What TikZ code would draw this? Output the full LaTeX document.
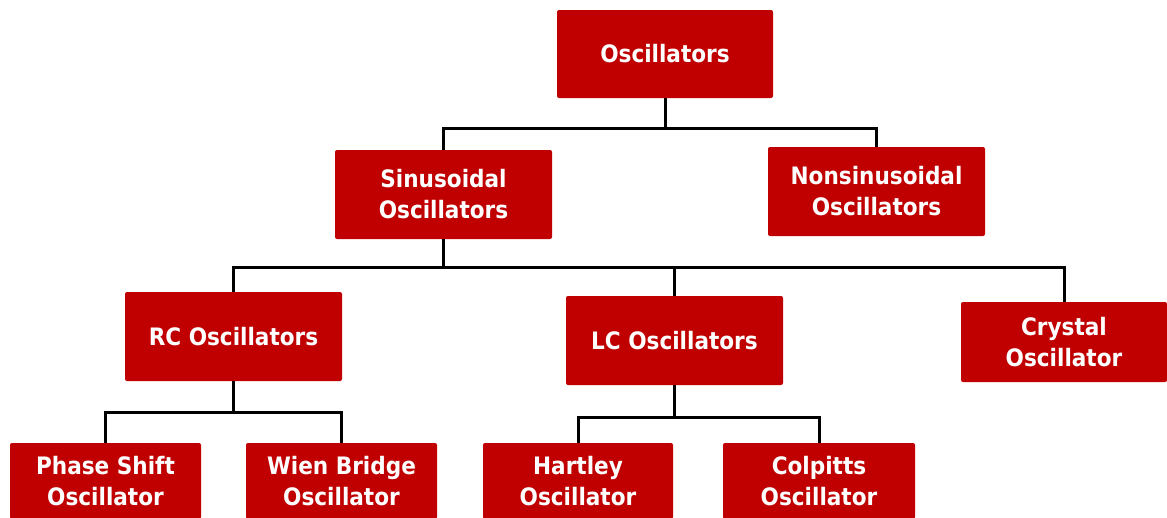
\documentclass[tikz,border=0pt]{standalone}
\usepackage{fontspec}
\newfontfamily\boxfont{DejaVu Sans Condensed}
\definecolor{boxred}{HTML}{C00000}

\begin{document}
\begin{tikzpicture}[x=1pt,y=-1pt,
  box/.style={fill=boxred,text=white,rounded corners=2pt,inner sep=0pt,
    minimum width=217pt,minimum height=89pt,align=center,
    font=\boxfont\bfseries\fontsize{24}{31}\selectfont},
  leaf/.style={box,minimum width=191pt,minimum height=76pt},
  link/.style={line width=3pt,black}]
\useasboundingbox (0,0) rectangle (1167,517);
\clip (0,0) rectangle (1167,517);
%
\node[box,minimum width=216pt,minimum height=88pt] (osc) at (665,54) {Oscillators};
\node[box] (sin) at (443.5,194.5) {Sinusoidal\\Oscillators};
\node[box] (non) at (876.5,191.5) {Nonsinusoidal\\Oscillators};
%
\node[box] (rc) at (233.5,336.5) {RC Oscillators};
\node[box] (lc) at (674.5,340.5) {LC Oscillators};
\node[box,minimum width=206pt,minimum height=80pt] (cry) at (1064,342) {Crystal\\Oscillator};
%
\node[leaf] (ps) at (105.5,481) {Phase Shift\\Oscillator};
\node[leaf] (wb) at (341.5,481) {Wien Bridge\\Oscillator};
\node[leaf,minimum width=190pt] (ha) at (578,481) {Hartley\\Oscillator};
\node[leaf,minimum width=192pt] (co) at (819,481) {Colpitts\\Oscillator};
%
\coordinate (bus1) at (0,128);
\coordinate (bus2) at (0,267);
\coordinate (bus3) at (0,412);
\coordinate (bus4) at (0,417);
%
\draw[link] (osc.south) -- (osc.south |- bus1);
\draw[link] (sin.north) |- (osc.south |- bus1) -| (non.north);
%
\draw[link] (sin.south) -- (sin.south |- bus2);
\draw[link] (rc.north) |- (sin.south |- bus2) -| (cry.north);
\draw[link] (lc.north) -- (lc.north |- bus2);
%
\draw[link] (rc.south) -- (rc.south |- bus3);
\draw[link] (ps.north) |- (rc.south |- bus3) -| (wb.north);
%
\draw[link] (lc.south) -- (lc.south |- bus4);
\draw[link] (ha.north) |- (lc.south |- bus4) -| (co.north);
\end{tikzpicture}
\end{document}
